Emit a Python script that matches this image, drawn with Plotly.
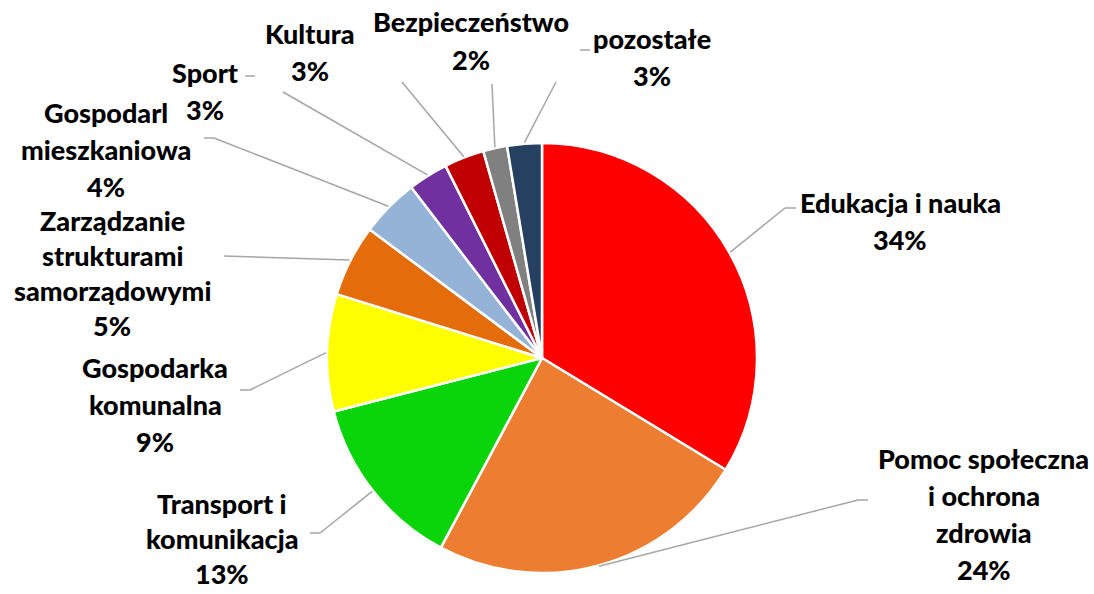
import math
import plotly.graph_objects as go

# ---- data ----
categories = ["Edukacja i nauka", "Pomoc społeczna i ochrona zdrowia", "Transport i komunikacja",
              "Gospodarka komunalna", "Zarządzanie strukturami samorządowymi",
              "Gospodarka mieszkaniowa", "Sport", "Kultura", "Bezpieczeństwo", "pozostałe"]
values = [33.7, 24.1, 13.2, 8.8, 5.4, 4.4, 3.0, 3.0, 1.8, 2.6]
label_lines = [["Edukacja i nauka"],
               ["Pomoc społeczna", "i ochrona", "zdrowia"],
               ["Transport i", "komunikacja"],
               ["Gospodarka", "komunalna"],
               ["Zarządzanie", "strukturami", "samorządowymi"],
               ["Gospodarl", "mieszkaniowa"],
               ["Sport"],
               ["Kultura"],
               ["Bezpieczeństwo"],
               ["pozostałe"]]
colors = ["#FF0000", "#ED7D31", "#0AD40A", "#FFFF00", "#E46C0A",
          "#95B3D7", "#7030A0", "#C00000", "#808080", "#254061"]

# ---- layout (pixels) ----
W, H = 1094, 594
CX, CY, R = 542, 358, 215
LINE_H = 37
FONT_SIZE = 27
label_pos = [(900, 203), (984, 458), (222, 503), (155, 367), (112, 220),
             (106, 112), (205, 72), (310, 33), (471, 22), (652, 38)]
line_gap = [LINE_H, LINE_H, 35, LINE_H, 35] + [LINE_H] * 5
leader_pts = [[(785, 208), (796, 208)],
              [(858, 500), (868, 500)],
              [(320, 533), (310, 533)],
              [(250, 390), (240, 390)],
              [(224, 256)],
              [(214, 138), (204, 138)],
              [(283, 92)],
              [(402, 82)],
              [(492, 84)],
              [(556, 82)]]
extra_stubs = [[(245, 76), (255, 76)], [(580, 50), (590, 50)]]

def px(x):
    return x / W

def py(y):
    return 1 - y / H

fig = go.Figure(go.Pie(
    labels=categories, values=values, sort=False, direction="clockwise", rotation=0,
    marker=dict(colors=colors, line=dict(color="white", width=2.5)),
    textinfo="none", hoverinfo="label+percent", showlegend=False,
    domain=dict(x=[px(CX - R), px(CX + R)], y=[py(CY + R), py(CY - R)]),
))

shapes = []
annotations = []
total = sum(values)
cum = 0.0
gray = "#A6A6A6"
for i, v in enumerate(values):
    mid = (cum + v / 2) / total * 2 * math.pi
    cum += v
    ex = CX + (R + 1) * math.sin(mid)
    ey = CY - (R + 1) * math.cos(mid)
    pts = [(ex, ey)] + leader_pts[i]
    for (x0, y0), (x1, y1) in zip(pts[:-1], pts[1:]):
        shapes.append(dict(type="line", xref="paper", yref="paper",
                           x0=px(x0), y0=py(y0), x1=px(x1), y1=py(y1),
                           line=dict(color=gray, width=1.5)))
    lines = label_lines[i] + [f"{round(v / total * 100)}%"]
    lx, ly = label_pos[i]
    for k, t in enumerate(lines):
        annotations.append(dict(text=t, x=px(lx), y=py(ly + k * line_gap[i]),
                                xref="paper", yref="paper", showarrow=False,
                                xanchor="center", yanchor="middle",
                                font=dict(family="Lato", size=FONT_SIZE, color="black",
                                          weight=900)))

for (x0, y0), (x1, y1) in extra_stubs:
    shapes.append(dict(type="line", xref="paper", yref="paper",
                       x0=px(x0), y0=py(y0), x1=px(x1), y1=py(y1),
                       line=dict(color=gray, width=1.5)))

fig.update_layout(width=W, height=H, margin=dict(l=0, r=0, t=0, b=0),
                  paper_bgcolor="white", plot_bgcolor="white",
                  shapes=shapes, annotations=annotations)
fig.write_html("out.html", config={"displayModeBar": False},
               post_script="document.body.style.margin='0';")
